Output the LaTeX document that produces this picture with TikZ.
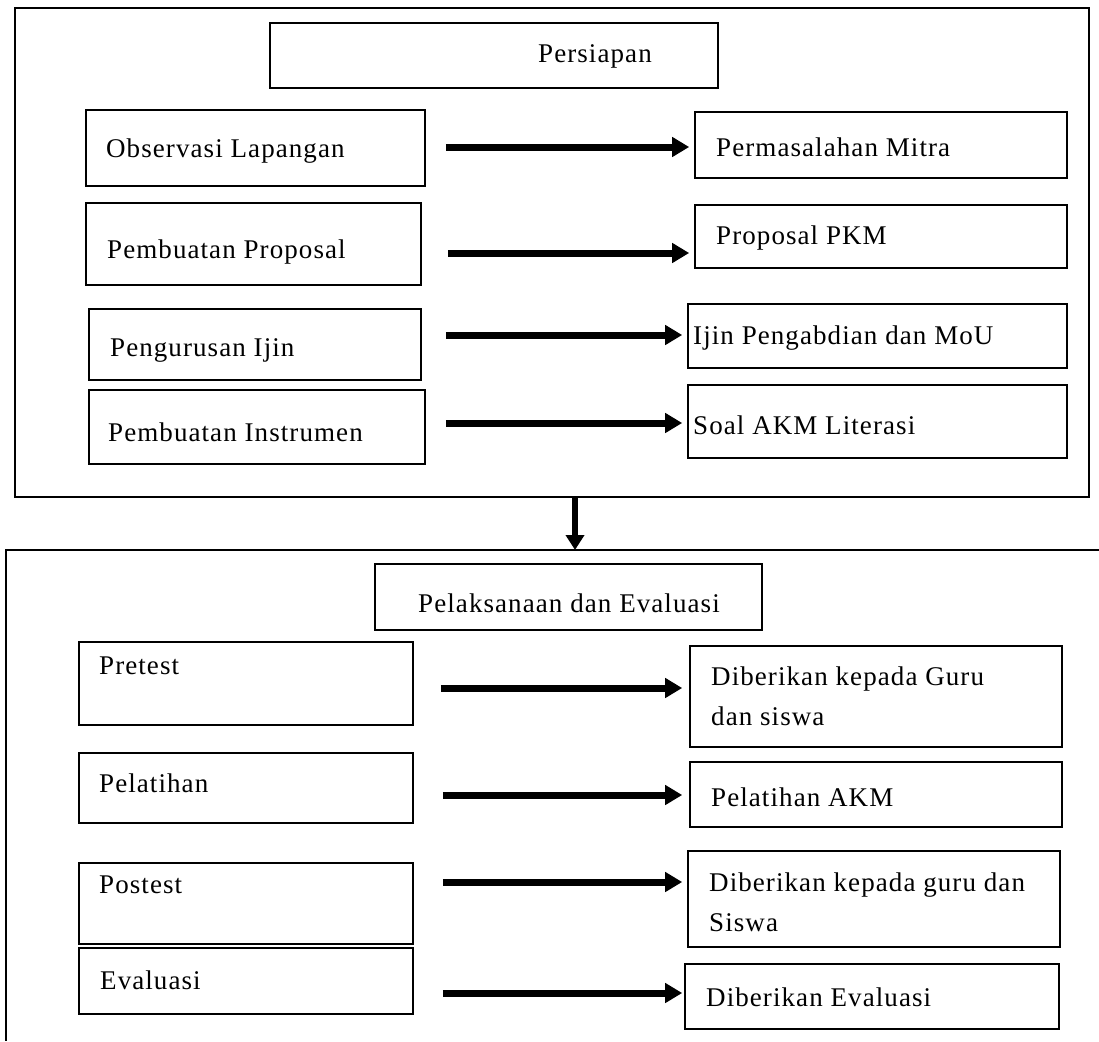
\documentclass[tikz,border=0pt]{standalone}
\usepackage{fontspec}
\setmainfont{Liberation Serif}[LetterSpace=4]
\usetikzlibrary{arrows.meta,fit}
\begin{document}
\begin{tikzpicture}[x=1pt,y=-1pt,
  box/.style={draw=black, line width=1.6pt, inner sep=0pt},
  frame/.style={draw=black, line width=1.8pt, inner sep=0pt},
  txt/.style={anchor=west, inner sep=0pt, font=\fontsize{27}{40}\selectfont, align=left},
  arr/.style={line width=7pt, -{Triangle[length=17pt,width=19pt]}}]
\useasboundingbox (0,0) rectangle (1099,1041);
% upper frame
\node[frame, fit={(15,8) (1089,497)}] (top) {};
\node[box, fit={(270,23) (718,88)}] (persiapan) {};
\node[txt] (tpersiapan) at (538,56) {Persiapan};
\node[box, fit={(86,110) (425,186)}] (obs) {};
\node[txt] (tobs) at (106,151) {Observasi Lapangan};
\node[box, fit={(695,112) (1067,178)}] (perm) {};
\node[txt] (tperm) at (716,147) {Permasalahan Mitra};
\node[box, fit={(86,203) (421,285)}] (prop) {};
\node[txt] (tprop) at (107,252) {Pembuatan Proposal};
\node[box, fit={(695,205) (1067,268)}] (pkm) {};
\node[txt] (tpkm) at (716,238) {Proposal PKM};
\node[box, fit={(89,309) (421,380)}] (ijin) {};
\node[txt] (tijin) at (110,350) {Pengurusan Ijin};
\node[box, fit={(688,304) (1067,368)}] (mou) {};
\node[txt] (tmou) at (693,338) {Ijin Pengabdian dan MoU};
\node[box, fit={(89,390) (425,464)}] (instr) {};
\node[txt] (tinstr) at (108,432) {Pembuatan Instrumen};
\node[box, fit={(688,385) (1067,458)}] (soal) {};
\node[txt] (tsoal) at (693,425) {Soal AKM Literasi};
\draw[arr] ([xshift=20pt]obs.east |- 0,147) -- ([xshift=-5pt]perm.west |- 0,147);
\draw[arr] ([xshift=26pt]prop.east |- 0,253) -- ([xshift=-5pt]pkm.west |- 0,253);
\draw[arr] ([xshift=24pt]ijin.east |- 0,335) -- ([xshift=-5pt]mou.west |- 0,335);
\draw[arr] ([xshift=20pt]instr.east |- 0,423) -- ([xshift=-5pt]soal.west |- 0,423);
% connector between frames
\coordinate (lowtop) at (575,550);
\draw[line width=6pt, -{Triangle[length=15pt,width=18pt]}] (top.south -| lowtop) -- (lowtop);
% lower frame (open)
\draw[line width=1.8pt] (1099,550) -- (6,550) -- (6,1041);
\node[box, fit={(375,564) (762,630)}] (pel) {};
\node[txt, anchor=center] (tpel) at (569,603) {Pelaksanaan dan Evaluasi};
\node[box, fit={(79,642) (413,725)}] (pre) {};
\node[txt] (tpre) at (99,666) {Pretest};
\node[box, fit={(690,646) (1062,747)}] (dg1) {};
\node[txt] (tdg1) at (711,696) {Diberikan kepada Guru\\dan siswa};
\node[box, fit={(79,753) (413,823)}] (lat) {};
\node[txt] (tlat) at (99,783) {Pelatihan};
\node[box, fit={(690,762) (1062,827)}] (akm) {};
\node[txt] (takm) at (711,797) {Pelatihan AKM};
\node[box, fit={(79,863) (413,944)}] (post) {};
\node[txt] (tpost) at (99,885) {Postest};
\node[box, fit={(688,851) (1060,947)}] (dg2) {};
\node[txt] (tdg2) at (709,902) {Diberikan kepada guru dan\\Siswa};
\node[box, fit={(79,948) (413,1014)}] (eval) {};
\node[txt] (teval) at (100,980) {Evaluasi};
\node[box, fit={(685,964) (1059,1029)}] (deval) {};
\node[txt] (tdeval) at (706,997) {Diberikan Evaluasi};
\draw[arr] ([xshift=27pt]pre.east |- 0,688) -- ([xshift=-7pt]dg1.west |- 0,688);
\draw[arr] ([xshift=29pt]lat.east |- 0,795) -- ([xshift=-7pt]akm.west |- 0,795);
\draw[arr] ([xshift=29pt]post.east |- 0,882) -- ([xshift=-5pt]dg2.west |- 0,882);
\draw[arr] ([xshift=29pt]eval.east |- 0,993) -- ([xshift=-2pt]deval.west |- 0,993);
\end{tikzpicture}
\end{document}
